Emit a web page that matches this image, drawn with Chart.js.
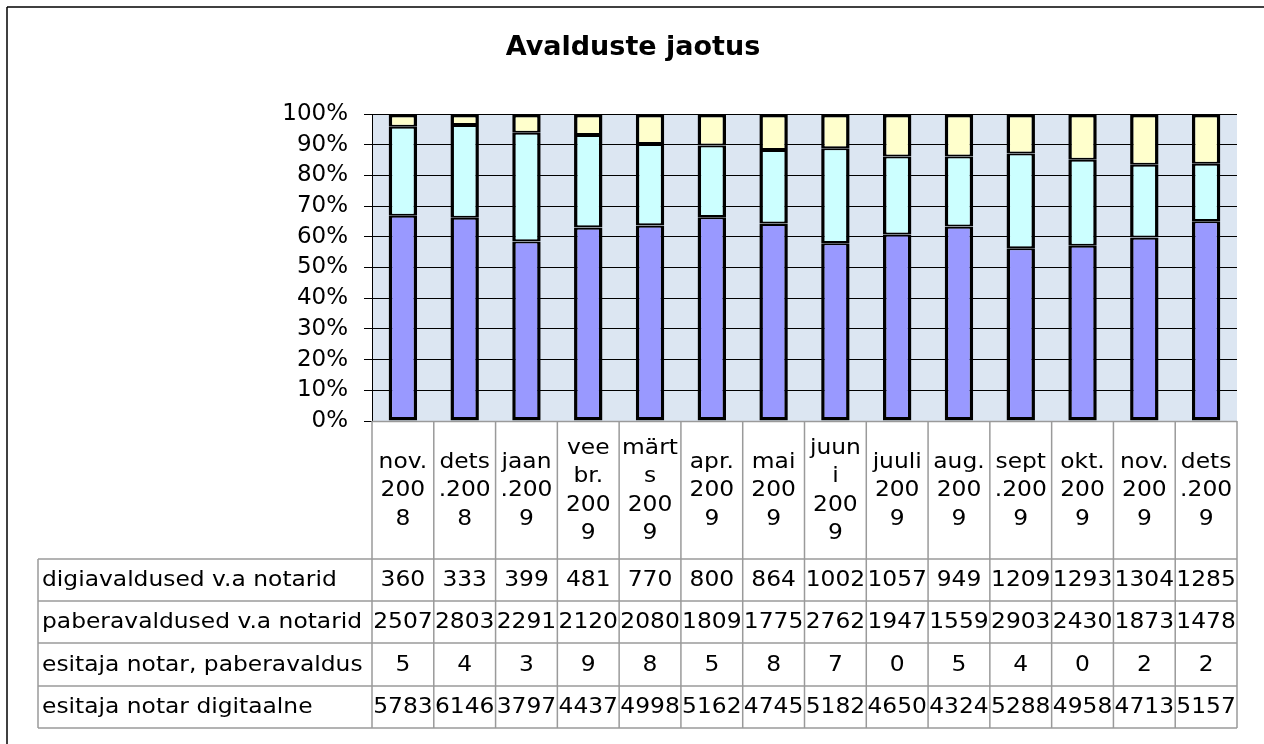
<!DOCTYPE html>
<html>
<head>
<meta charset="utf-8">
<title>Avalduste jaotus</title>
<script src="https://cdn.jsdelivr.net/npm/chart.js@4/dist/chart.umd.min.js"></script>
<style>
  html, body { margin: 0; padding: 0; background: #fff; }
  #wrap { width: 1264px; height: 744px; }
</style>
</head>
<body>
<div id="wrap"><canvas id="chart" width="1264" height="744"></canvas></div>
<script>
// ── Data ─────────────────────────────────────
const months = ['nov. 2008', 'dets.2008', 'jaan.2009', 'veebr. 2009', 'märts 2009', 'apr. 2009', 'mai 2009',
                'juuni 2009', 'juuli 2009', 'aug. 2009', 'sept.2009', 'okt. 2009', 'nov. 2009', 'dets.2009'];
// header cell text, wrapped the way the table shows it
const monthLines = [
  ['nov.', '200', '8'], ['dets', '.200', '8'], ['jaan', '.200', '9'], ['vee', 'br.', '200', '9'],
  ['märt', 's', '200', '9'], ['apr.', '200', '9'], ['mai', '200', '9'], ['juun', 'i', '200', '9'],
  ['juuli', '200', '9'], ['aug.', '200', '9'], ['sept', '.200', '9'], ['okt.', '200', '9'],
  ['nov.', '200', '9'], ['dets', '.200', '9'],
];
const digiavaldused  = [360, 333, 399, 481, 770, 800, 864, 1002, 1057, 949, 1209, 1293, 1304, 1285];
const paberavaldused = [2507, 2803, 2291, 2120, 2080, 1809, 1775, 2762, 1947, 1559, 2903, 2430, 1873, 1478];
const notarPaber     = [5, 4, 3, 9, 8, 5, 8, 7, 0, 5, 4, 0, 2, 2];
const notarDigi      = [5783, 6146, 3797, 4437, 4998, 5162, 4745, 5182, 4650, 4324, 5288, 4958, 4713, 5157];
const yTicks = [0, 10, 20, 30, 40, 50, 60, 70, 80, 90, 100];

// table rows, top to bottom (reverse of the stack order)
const tableRows = [
  { label: 'digiavaldused v.a notarid',      values: digiavaldused },
  { label: 'paberavaldused v.a notarid',     values: paberavaldused },
  { label: 'esitaja notar, paberavaldus',    values: notarPaber },
  { label: 'esitaja notar digitaalne',       values: notarDigi },
];

const totals = months.map((_, i) => digiavaldused[i] + paberavaldused[i] + notarPaber[i] + notarDigi[i]);
const pct = arr => arr.map((v, i) => v / totals[i] * 100);

const FONT = "'DejaVu Sans', sans-serif";
const PLOT_BG = '#DCE6F2';
const GRID_GREY = '#9a9a9a';
const LABEL_LEFT = 38;
const ROW_LINES = [559, 601, 643, 686, 728];
const TEXT_STRETCH = 1.14; // table text in the original is drawn a bit wide

// ── Plugins ──────────────────────────────────
const plotBg = {
  id: 'plotBg',
  beforeDraw(chart) {
    const { ctx, chartArea: a } = chart;
    ctx.save();
    ctx.fillStyle = PLOT_BG;
    ctx.fillRect(a.left, a.top, a.right - a.left, a.bottom - a.top);
    ctx.restore();
  },
};

const dataTable = {
  id: 'dataTable',
  afterDraw(chart) {
    const { ctx, chartArea: a, scales: { x } } = chart;
    const n = months.length;
    const step = x.getPixelForValue(1) - x.getPixelForValue(0);
    const edges = months.map((_, i) => x.getPixelForValue(i) - step / 2);
    edges.push(x.getPixelForValue(n - 1) + step / 2);
    const right = edges[n];
    const bottom = ROW_LINES[ROW_LINES.length - 1];

    const line = (x1, y1, x2, y2) => { ctx.beginPath(); ctx.moveTo(x1, y1); ctx.lineTo(x2, y2); ctx.stroke(); };
    const text = (t, tx, ty, align) => {
      ctx.save();
      ctx.translate(tx, ty);
      ctx.scale(TEXT_STRETCH, 1);
      ctx.textAlign = align;
      ctx.fillText(t, 0, 0);
      ctx.restore();
    };

    ctx.save();
    ctx.strokeStyle = GRID_GREY;
    ctx.lineWidth = 1.5;
    line(edges[0], a.bottom + 0.5, right, a.bottom + 0.5);
    ROW_LINES.forEach(y => line(LABEL_LEFT, y, right, y));
    edges.forEach(ex => line(ex, a.bottom, ex, bottom));
    line(LABEL_LEFT, ROW_LINES[0], LABEL_LEFT, bottom);

    ctx.fillStyle = '#000';
    ctx.textBaseline = 'middle';
    ctx.font = '20.5px ' + FONT;

    // header (month) cells, vertically centred
    const headMid = (a.bottom + ROW_LINES[0]) / 2 + 1;
    const lh = 28.5;
    monthLines.forEach((lines, i) => {
      const cx = x.getPixelForValue(i);
      const y0 = headMid - (lines.length - 1) * lh / 2;
      lines.forEach((t, k) => text(t, cx, y0 + k * lh, 'center'));
    });

    // row labels + values
    tableRows.forEach((row, r) => {
      const cy = (ROW_LINES[r] + ROW_LINES[r + 1]) / 2 + 1;
      text(row.label, LABEL_LEFT + 4, cy, 'left');
      row.values.forEach((v, i) => text(String(v), x.getPixelForValue(i), cy, 'center'));
    });

    // outer frame (top and left edges are visible)
    ctx.strokeStyle = '#000';
    ctx.lineWidth = 1.5;
    line(7, 7, chart.width, 7);
    line(7, 7, 7, chart.height);
    ctx.restore();
  },
};

// ── Chart ────────────────────────────────────
const bw = (top, bottom) => ({ top, bottom, left: 3.5, right: 3.5 });

new Chart(document.getElementById('chart').getContext('2d'), {
  type: 'bar',
  data: {
    labels: months,
    datasets: [
      { label: 'esitaja notar digitaalne',    data: pct(notarDigi),      backgroundColor: '#9999FF', borderWidth: bw(2, 3.5) },
      { label: 'esitaja notar, paberavaldus', data: pct(notarPaber),     backgroundColor: '#993366', borderWidth: bw(0.5, 0.5) },
      { label: 'paberavaldused v.a notarid',  data: pct(paberavaldused), backgroundColor: '#CCFFFF', borderWidth: bw(2, 2) },
      { label: 'digiavaldused v.a notarid',   data: pct(digiavaldused),  backgroundColor: '#FFFFCC', borderWidth: bw(3.5, 2) },
    ].map(d => ({ ...d, borderColor: '#000', borderSkipped: false, barPercentage: 0.46, categoryPercentage: 1 })),
  },
  options: {
    responsive: false,
    devicePixelRatio: 1,
    animation: false,
    layout: { padding: { top: 0, left: 29, right: 27, bottom: 323 } },
    plugins: {
      legend: { display: false },
      tooltip: { enabled: false },
      title: {
        display: true,
        text: 'Avalduste jaotus',
        color: '#000',
        font: { family: FONT, size: 27, weight: 'bold' },
        padding: { top: 32, bottom: 49.6 },
      },
    },
    scales: {
      x: { stacked: true, display: false },
      y: {
        stacked: true,
        min: 0,
        max: 100,
        afterFit: s => { s.width = 343; },
        afterBuildTicks: s => { s.ticks = yTicks.map(v => ({ value: v })); },
        ticks: {
          callback: v => v + '%',
          color: '#000',
          padding: 16,
          font: { family: FONT, size: 23 },
        },
        grid: { color: '#000', lineWidth: 1, tickLength: 8 },
        border: { color: '#000', width: 1 },
      },
    },
  },
  plugins: [plotBg, dataTable],
});
</script>
</body>
</html>
